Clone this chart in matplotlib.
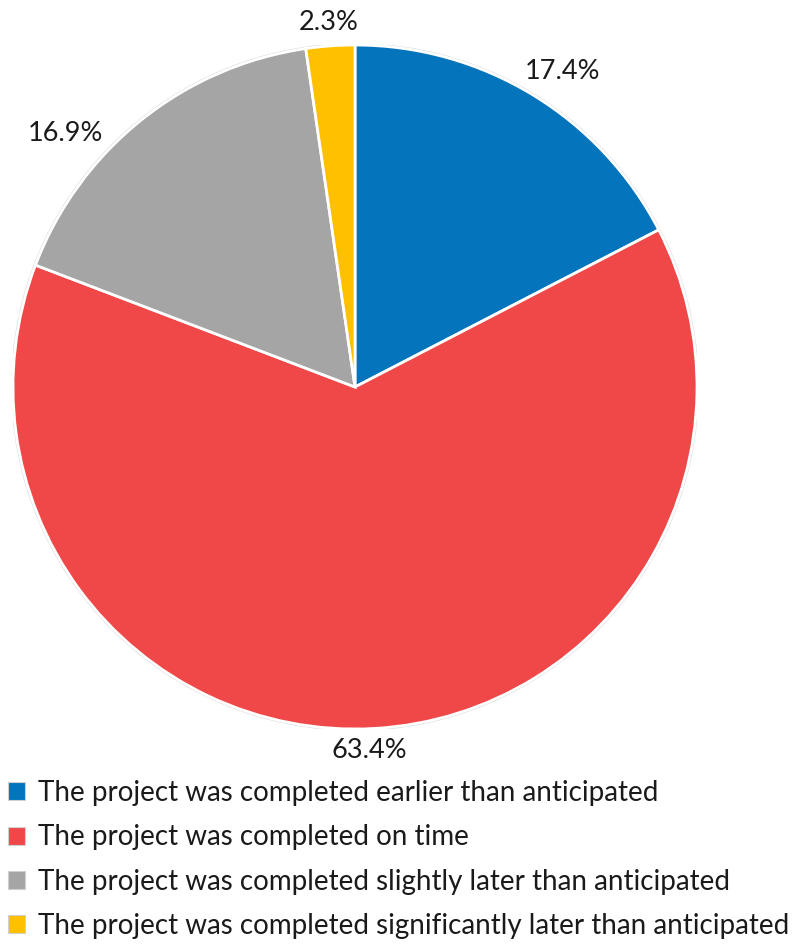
import numpy as np
import matplotlib
matplotlib.use("Agg")
import matplotlib.pyplot as plt
from matplotlib.patches import Patch, Circle

plt.rcParams['font.family'] = ['Lato', 'DejaVu Sans']

categories = [
    "The project was completed earlier than anticipated",
    "The project was completed on time",
    "The project was completed slightly later than anticipated",
    "The project was completed significantly later than anticipated",
]
shares = [17.4, 63.4, 16.9, 2.3]
colors = ["#0474BC", "#F04848", "#A5A5A5", "#FFC000"]

W, H = 808, 948
fig = plt.figure(figsize=(W / 100, H / 100), dpi=100)
cx, cy, r = 355, 387, 342
ax = fig.add_axes([(cx - r) / W, (H - cy - r) / H, 2 * r / W, 2 * r / H])

ax.add_patch(Circle((0, 0), 1.003, facecolor='none', edgecolor='#D9D9D9', lw=1.2, zorder=0))
wedges, _ = ax.pie(shares, colors=colors, startangle=90, counterclock=False,
                   radius=1, wedgeprops=dict(edgecolor='white', linewidth=2))
ax.set_xlim(-1, 1)
ax.set_ylim(-1, 1)
ax.set_aspect('equal')
ax.axis('off')

# label placement: (radial distance, angular shift in degrees)
tweaks = [(1.105, -2.0), (1.065, -1.0), (1.125, 10.0), (1.07, 0.0)]
for w, v, (d, sh) in zip(wedges, shares, tweaks):
    ang = np.deg2rad((w.theta1 + w.theta2) / 2 + sh)
    ax.text(d * np.cos(ang), d * np.sin(ang), f"{v:.1f}%", ha='center', va='center',
            fontsize=19.5, color='#1a1a1a', clip_on=False)

handles = [Patch(facecolor=c, edgecolor='#D0D0D0', linewidth=0.8) for c in colors]
fig.legend(handles, categories, loc='upper left', bbox_to_anchor=(8 / W, 1 - 780 / H),
           frameon=False, fontsize=20, handlelength=0.62, handleheight=0.62,
           handletextpad=0.45, labelspacing=0.66, borderaxespad=0, borderpad=0.0,
           labelcolor='#1a1a1a')

fig.savefig("out.png", dpi=100)
